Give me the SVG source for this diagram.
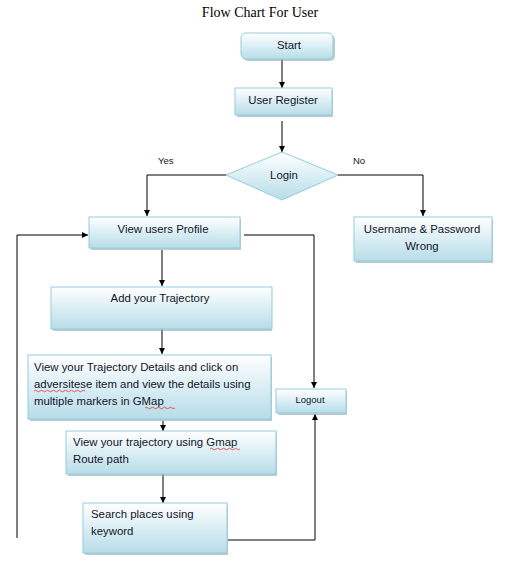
<svg xmlns="http://www.w3.org/2000/svg" width="516" height="569" viewBox="0 0 516 569">
<style>
.box{fill:url(#g);stroke:#93cddd;stroke-width:1}
.sh{fill:#8fa7ad;opacity:0.6}
.t{font-family:"Liberation Sans",Arial,sans-serif;font-size:11.4px;fill:#141428}
.c{text-anchor:middle}
.ln{fill:none;stroke:#000;stroke-width:1}
</style>
<defs>
<linearGradient id="g" x1="0" y1="0" x2="0" y2="1">
<stop offset="0" stop-color="#ffffff"/>
<stop offset="0.45" stop-color="#def0f5"/>
<stop offset="1" stop-color="#b7dde8"/>
</linearGradient>
<marker id="a" viewBox="0 0 10 10" refX="10" refY="5" markerWidth="6" markerHeight="6" orient="auto" markerUnits="userSpaceOnUse">
<path d="M0,0 L10,5 L0,10 z" fill="#000"/>
</marker>
</defs>
<rect width="516" height="569" fill="#fff"/>
<text x="260" y="17" text-anchor="middle" font-family="Liberation Serif,'Times New Roman',serif" font-size="14" fill="#000">Flow Chart For User</text>

<g id="connectors">
<path class="ln" d="M282,59 V88" marker-end="url(#a)"/>
<path class="ln" d="M282,121 V152" marker-end="url(#a)"/>
<path class="ln" d="M226,175 H147 V216" marker-end="url(#a)"/>
<path class="ln" d="M338,175 H423 V216" marker-end="url(#a)"/>
<path class="ln" d="M244,235 H314 V388" marker-end="url(#a)"/>
<path class="ln" d="M17,538 V235 H88" marker-end="url(#a)"/>
<path class="ln" d="M162,250 V286" marker-end="url(#a)"/>
<path class="ln" d="M162,322 V354" marker-end="url(#a)"/>
<path class="ln" d="M163,421 V431" marker-end="url(#a)"/>
<path class="ln" d="M163,471 V503" marker-end="url(#a)"/>
<path class="ln" d="M228,540 H315 V414" marker-end="url(#a)"/>
<text class="t" x="158" y="164" style="font-size:9.5px">Yes</text>
<text class="t" x="353" y="164" style="font-size:9.5px">No</text>
</g>

<g id="start">
<rect class="sh" x="243" y="35" width="92" height="26" rx="5"/>
<rect class="box" x="241" y="33" width="92" height="26" rx="5"/>
<text class="t c" x="289" y="49">Start</text>
</g>
<g id="user-register">
<rect class="sh" x="237" y="90" width="96" height="27"/>
<rect class="box" x="235" y="88" width="97" height="27"/>
<text class="t c" x="283" y="104">User Register</text>
</g>
<g id="login">
<polygon class="box" points="282,152 338,175 282,200 226,175"/>
<text class="t c" x="284" y="179">Login</text>
</g>
<g id="view-profile">
<rect class="sh" x="91" y="219" width="150" height="31"/>
<rect class="box" x="89" y="217" width="151" height="31"/>
<text class="t c" x="163" y="233">View users Profile</text>
</g>
<g id="wrong">
<rect class="sh" x="356" y="219" width="137" height="44"/>
<rect class="box" x="354" y="217" width="138" height="44"/>
<text class="t c" x="422" y="233">Username &amp; Password</text>
<text class="t c" x="422" y="250">Wrong</text>
</g>
<g id="add-trajectory">
<rect class="sh" x="53" y="289" width="219" height="42"/>
<rect class="box" x="51" y="287" width="221" height="42"/>
<text class="t c" x="160" y="302">Add your Trajectory</text>
</g>
<g id="details">
<rect class="sh" x="30" y="357" width="242" height="64"/>
<rect class="box" x="28" y="355" width="243" height="64"/>
<text class="t" x="34" y="371">View your Trajectory Details and click on</text>
<text class="t" x="34" y="388">adversitese item and view the details using</text>
<text class="t" x="34" y="405">multiple markers in GMap</text>
<path d="M34,391 q1.5,-1.5 3,0 t3,0 t3,0 t3,0 t3,0 t3,0 t3,0 t3,0 t3,0 t3,0 t3,0 t3,0 t3,0 t3,0 t3,0 t3,0 t3,0" fill="none" stroke="#e02020" stroke-width="0.7"/>
<path d="M145,408 q1.5,-1.5 3,0 t3,0 t3,0 t3,0 t3,0 t3,0 t3,0 t3,0 t3,0 t3,0" fill="none" stroke="#e02020" stroke-width="0.7"/>
</g>
<g id="logout">
<rect class="sh" x="278" y="391" width="69" height="24"/>
<rect class="box" x="276" y="389" width="70" height="24"/>
<text class="t c" x="310" y="403" style="font-size:9.5px">Logout</text>
</g>
<g id="route">
<rect class="sh" x="68" y="433" width="209" height="43"/>
<rect class="box" x="66" y="431" width="210" height="43"/>
<text class="t" x="73" y="446">View your trajectory using Gmap</text>
<text class="t" x="73" y="463">Route path</text>
<path d="M210,449 q1.5,-1.5 3,0 t3,0 t3,0 t3,0 t3,0 t3,0 t3,0 t3,0 t3,0 t3,0" fill="none" stroke="#e02020" stroke-width="0.7"/>
</g>
<g id="search">
<rect class="sh" x="85" y="505" width="143" height="50"/>
<rect class="box" x="83" y="503" width="144" height="50"/>
<text class="t" x="91" y="518">Search places using</text>
<text class="t" x="91" y="535">keyword</text>
</g>
</svg>
